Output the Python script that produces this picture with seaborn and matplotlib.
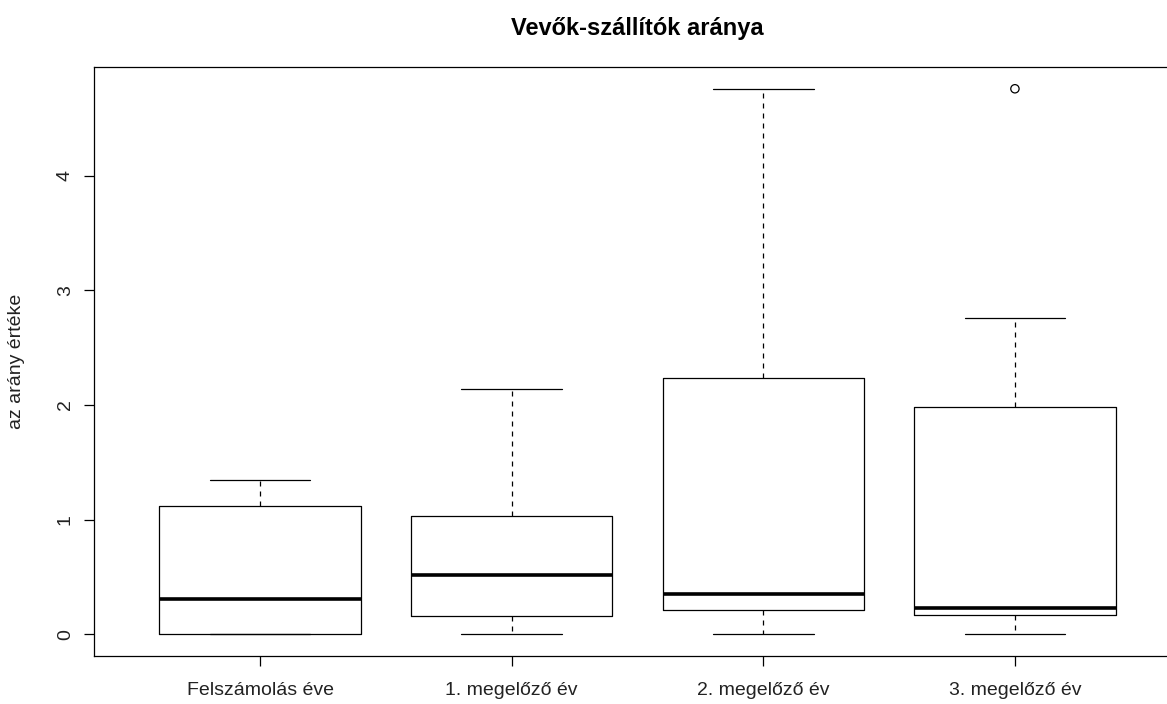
import numpy as np
import pandas as pd
import matplotlib.pyplot as plt
import seaborn as sns

# five-number summaries
groups       = ["Felszámolás éve", "1. megelőző év", "2. megelőző év", "3. megelőző év"]
whisker_low  = [0.0, 0.0, 0.0, 0.0]
q1           = [0.0, 0.155, 0.21, 0.17]
median       = [0.31, 0.52, 0.35, 0.23]
q3           = [1.12, 1.035, 2.24, 1.98]
whisker_high = [1.35, 2.14, 4.76, 2.76]

# outliers drawn as open circles
outlier_group = ["3. megelőző év"]
outlier_value = [4.76]

# long table: five points per group reproduce the summary exactly
rows = []
for g, lo, a, m, b, hi in zip(groups, whisker_low, q1, median, q3, whisker_high):
    for v in (lo, a, m, b, hi):
        rows.append({"group": g, "value": v})
df = pd.DataFrame(rows)

sns.set_style("white")
plt.rcParams["font.family"] = ["Liberation Sans", "DejaVu Sans"]

W, H = 1167, 704
fig = plt.figure(figsize=(W / 100, H / 100), dpi=100)
ax = fig.add_axes([94 / W, 48 / H, 1087 / W, 589 / H])

sns.boxplot(
    data=df, x="group", y="value", order=groups, ax=ax,
    width=0.8, fill=False, color="black", linewidth=0.9,
    whis=1.5, showfliers=False, capwidths=0.4,
    medianprops=dict(linewidth=2.6, color="black"),
    whiskerprops=dict(linestyle=(0, (4, 4)), color="black"),
    capprops=dict(color="black"),
    boxprops=dict(color="black"),
)

for g, v in zip(outlier_group, outlier_value):
    ax.scatter([groups.index(g)], [v], s=36, facecolors="none",
               edgecolors="black", linewidths=0.9, zorder=5)

ax.set_xlim(-0.66, 3.66)
ax.set_ylim(-0.19, 4.95)
ax.set_yticks([0, 1, 2, 3, 4])
ax.set_xlabel("")
ax.set_ylabel("az arány értéke", fontsize=14, color="#222222")
ax.yaxis.set_label_coords(-0.0635, 0.5)

for s in ax.spines.values():
    s.set_visible(True)
    s.set_color("black")
    s.set_linewidth(0.9)

ax.tick_params(axis="both", direction="out", length=7.5, width=0.9,
               color="black", labelsize=14, labelcolor="#222222")
ax.tick_params(axis="x", pad=11, bottom=True)
ax.tick_params(axis="y", pad=7, left=True)
for lab in ax.get_yticklabels():
    lab.set_rotation(90)
    lab.set_va("center")

fig.text(637.5 / W, 1 - 35 / H, "Vevők-szállítók aránya", ha="center",
         va="baseline", fontsize=17, fontweight="bold", color="black")

fig.savefig("out.png", dpi=100, facecolor="white")
